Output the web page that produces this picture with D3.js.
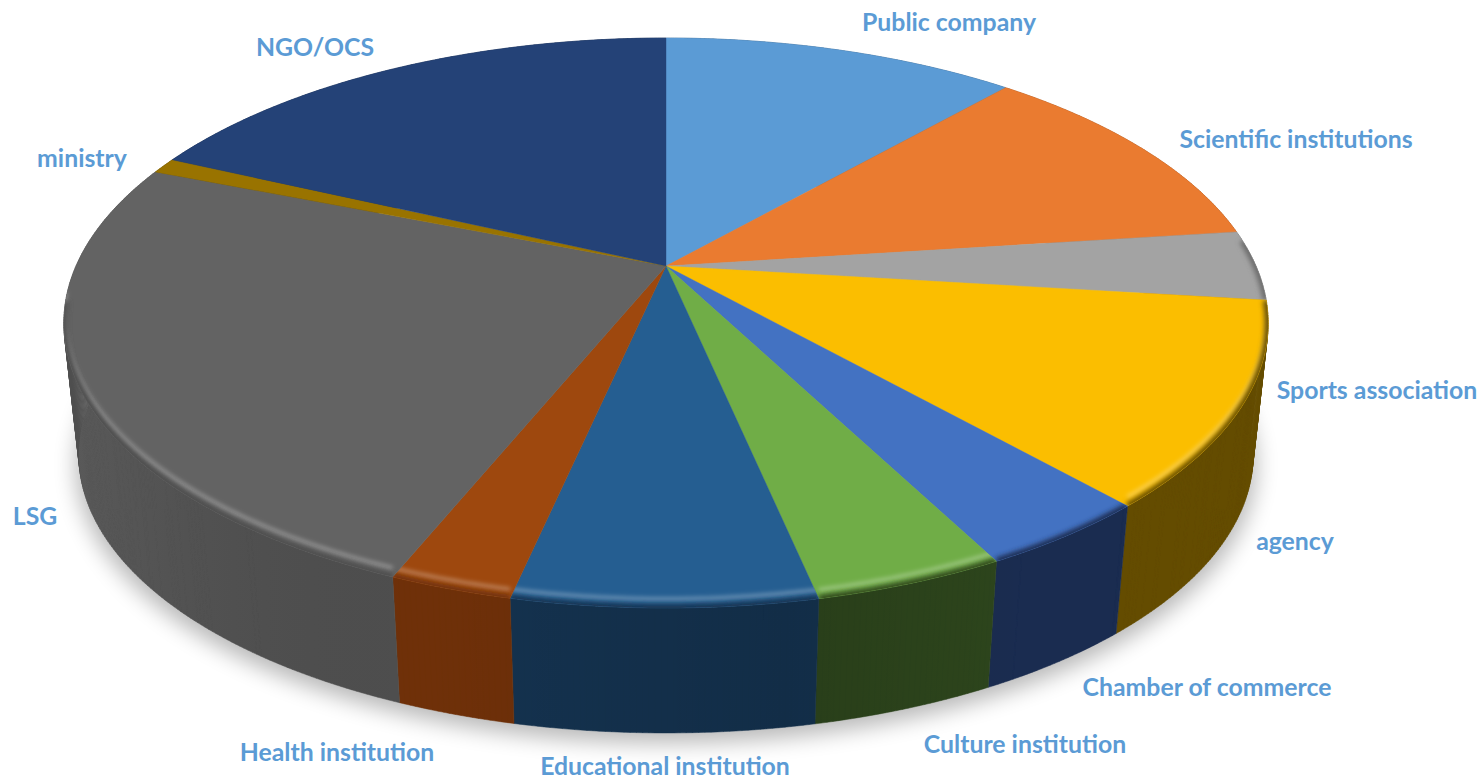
<!DOCTYPE html>
<html><head><meta charset="utf-8">
<script src="https://cdn.jsdelivr.net/npm/d3@7"></script>
<style>html,body{margin:0;background:#fff}svg{display:block}
text{font-family:Lato,"Open Sans",sans-serif;font-weight:700;fill:#5b9bd5;font-size:24.8px;text-anchor:middle}</style>
</head><body><div id="c"></div>
<script>
const categories=["Public company","Scientific institutions","Sports association","agency","Chamber of commerce","Culture institution","Educational institution","Health institution","LSG","ministry","NGO/OCS"];
const shares=[11.51,11.45,3.98,11.47,3.97,4.28,6.75,2.75,24.86,0.89,18.09];
const faceColors=["#5b9bd5","#ea7b30","#a3a3a3","#fbbe00","#4372c2","#70ad47","#255e91","#9e480e","#636363","#997300","#244277"];
const wallColors=["#3a6285","#9a5120","#6a6a6a","#644c00","#1a2c50","#2d451c","#14324f","#6f3009","#4e4e4e","#5c4500","#16294a"];
const labelX=[949,1296,1377,1295,1207,1025,665,337,35,82,315];
const labelY=[31,148,399,550,696,753,775,761,525,167,56];

const W=1481,H=781;
const cx=666,cy=266,A=273.6,B=590,k=0.2;
const wallDrop=133.5,wallScale=0.975;
const proj=(t,r=1)=>{const d=1+k*r*Math.cos(t);return [cx+B*r*Math.sin(t)/d,cy-A*r*Math.cos(t)/d];};
const projLow=(t)=>{const p=proj(t);return [cx+(p[0]-cx)*wallScale,cy+wallDrop+(p[1]-cy)*wallScale];};

const svg=d3.select("#c").append("svg").attr("width",W).attr("height",H);
const defs=svg.append("defs");
defs.append("filter").attr("id","sh").attr("x","-10%").attr("y","-10%").attr("width","120%").attr("height","120%")
  .append("feGaussianBlur").attr("stdDeviation",11);
const blur=(id,s)=>defs.append("filter").attr("id",id).attr("filterUnits","userSpaceOnUse").attr("x",0).attr("y",0).attr("width",W).attr("height",H)
  .append("feGaussianBlur").attr("stdDeviation",s);
blur("b2",2.4);blur("b1",2.2);

const pie=d3.pie().sort(null).value(d=>d)(shares);
const line=d3.line();
const step=Math.PI/360;
const arcPts=(a,b,f)=>{const n=Math.max(2,Math.ceil((b-a)/step));return d3.range(n+1).map(i=>f(a+(b-a)*i/n));};
// a wall is a band of small quads, so the silhouette between the two rims stays filled
const band=(a,b)=>{const T=arcPts(a,b,t=>t);return d3.pairs(T).map(([u,v])=>line([proj(u),proj(v),projLow(v),projLow(u)])+"Z").join("");};

// ground shadow, from the lower rim only so the back edge stays clean
const low=arcPts(0,2*Math.PI,projLow).map(p=>[cx+(p[0]-cx)*1.005,p[1]+10]);
svg.append("path").attr("d",line(low)+"Z").attr("fill","#000").attr("opacity",.28).attr("filter","url(#sh)");

// walls
svg.append("g").selectAll("path").data(pie).join("path")
  .attr("d",d=>band(d.startAngle,d.endAngle))
  .attr("fill",(d,i)=>wallColors[i]).attr("stroke",(d,i)=>wallColors[i]).attr("stroke-width",.5);

// wall shading
const sg=defs.append("linearGradient").attr("id","wallShade").attr("gradientUnits","userSpaceOnUse")
  .attr("x1",60).attr("x2",1270).attr("y1",0).attr("y2",0);
[[0,"#fff",.07],[.3,"#000",0],[.6,"#000",.1],[.8,"#000",0]].forEach(s=>sg.append("stop").attr("offset",s[0]).attr("stop-color",s[1]).attr("stop-opacity",s[2]));
svg.append("path").attr("fill","url(#wallShade)").attr("d",band(Math.PI*.47,Math.PI*1.6));

// top faces
const faces=svg.append("g");
const bevelFrom=Math.PI*.47,bevelTo=Math.PI*1.46;
pie.forEach((d,i)=>{
  const face=[[cx,cy]].concat(arcPts(d.startAngle,d.endAngle,t=>proj(t)));
  const id="clip"+i;
  defs.append("clipPath").attr("id",id).append("path").attr("d",line(face)+"Z");
  faces.append("path").attr("d",line(face)+"Z").attr("fill",faceColors[i]).attr("stroke",faceColors[i]).attr("stroke-width",.4);
  const a=Math.max(d.startAngle,bevelFrom),b=Math.min(d.endAngle,bevelTo);
  if(b>a){
    const g=faces.append("g").attr("clip-path",`url(#${id})`);
    const lum=d3.hsl(faceColors[i]).l;
    g.append("path").attr("d",line(arcPts(a,b,t=>{const p=proj(t);return [p[0],p[1]-9];}))).attr("fill","none")
      .attr("stroke","#fff").attr("stroke-opacity",lum<.5?.3:0).attr("stroke-width",4).attr("filter","url(#b1)");
    g.append("path").attr("d",line(arcPts(a,b,t=>proj(t,1)))).attr("fill","none")
      .attr("stroke",wallColors[i]).attr("stroke-width",7).attr("filter","url(#b2)");
  }
});

svg.append("g").selectAll("text").data(categories).join("text")
  .attr("x",(d,i)=>labelX[i]).attr("y",(d,i)=>labelY[i]).text(d=>d);
</script></body></html>
